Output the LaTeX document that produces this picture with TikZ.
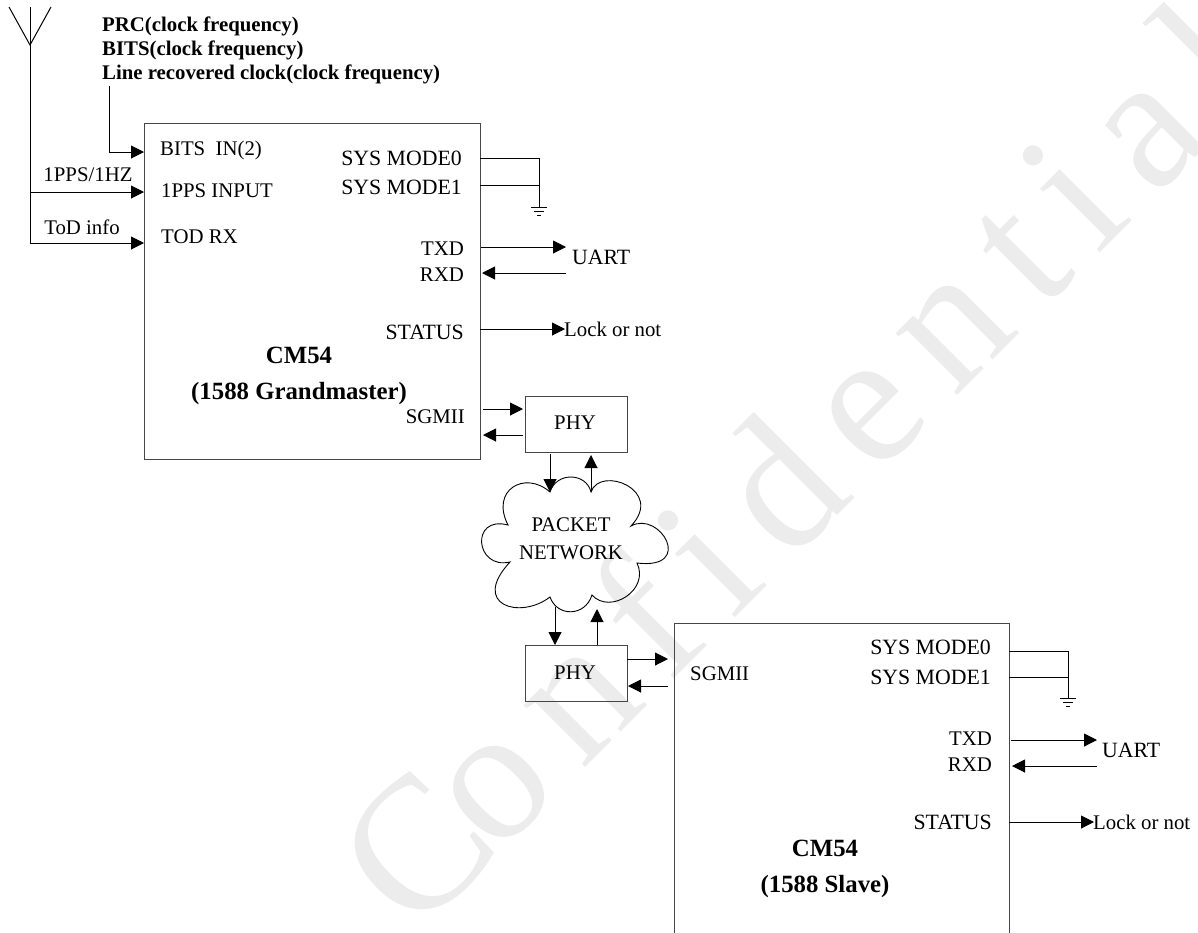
\documentclass[tikz,border=0pt]{standalone}
\usepackage{fontspec}
\setmainfont{Liberation Serif}
\newfontfamily\markfont[LetterSpace=14.3]{Liberation Serif}
\usepackage{xcolor}
\usepackage{tikz}
\usetikzlibrary{positioning, shapes}
\usetikzlibrary{arrows.meta}
\definecolor{markgray}{RGB}{236,236,236}
\definecolor{boxgray}{RGB}{70,70,70}

\begin{document}
\begin{tikzpicture}[x=1pt,y=-1pt]
        \tikzset{edge/.style = {-{Triangle[length=13pt,width=13pt]},line width=1pt}}
        \tikzset{line/.style = {line width=1pt}}
        \tikzset{chip/.style = {draw=boxgray,line width=0.9pt,anchor=north west,inner sep=0pt}}
        \tikzset{lbl/.style = {font=\fontsize{20.8}{25}\selectfont,inner sep=0pt}}
        \tikzset{widelbl/.style = {font=\fontsize{21.8}{26}\selectfont,inner sep=0pt}}
        \tikzset{title/.style = {font=\bfseries\fontsize{24.8}{35.5}\selectfont,inner sep=0pt,align=center}}
        \useasboundingbox (0,0) rectangle (1198,932);

        % watermark
        \node[markgray,rotate=45,anchor=base west,inner sep=0pt,font=\markfont\fontsize{190}{190}\selectfont] (mark) at (415,938) {C\kern-12pt onfidential};

        % grandmaster
        \node[chip,minimum width=336pt,minimum height=336pt] (gm) at (144,123) {};
        \node[title] (gmt) at (299,376) {CM54\\(1588 Grandmaster)};
        \node[lbl,anchor=west] (bits) at (160,150) {BITS\ \ IN(2)};
        \node[lbl,anchor=west] (pps) at (161,191) {1PPS INPUT};
        \node[lbl,anchor=west] (tod) at (161,237) {TOD RX};
        \node[widelbl,anchor=east] (mode0) at (462,158) {SYS MODE0};
        \node[widelbl,anchor=east] (mode1) at (462,187) {SYS MODE1};
        \node[lbl,anchor=east] (txd) at (464,249) {TXD};
        \node[lbl,anchor=east] (rxd) at (464,275) {RXD};
        \node[widelbl,anchor=east] (status) at (464,332) {STATUS};
        \node[lbl,anchor=east] (sgmii) at (465,417) {SGMII};
        \node[widelbl,anchor=west] (uart) at (572,257) {UART};
        \node[lbl,anchor=west] (lock) at (564,329) {Lock or not};

        % inputs
        \coordinate (ant) at (30,45);
        \coordinate (antc) at (30,7);
        \coordinate (antl) at (9,7);
        \coordinate (antr) at (51,7);
        \draw[line] (antc) -- (ant);
        \draw[line] (antl) -- (ant) -- (antr);
        \coordinate (in1) at (144,192);
        \coordinate (in2) at (144,243);
        \draw[edge] (ant) |- (in1);
        \draw[edge] (ant) |- (in2);
        \node[lbl] (ppst) at (88,175) {1PPS/1HZ};
        \node[lbl] (todt) at (82,227) {ToD info};
        \node[title,anchor=north west,align=left,font=\bfseries\fontsize{20.8}{24}\selectfont] (clk) at (102,17) {PRC(clock frequency)\\BITS(clock frequency)\\Line recovered clock(clock frequency)};
        \coordinate (clk1) at (109,86);
        \coordinate (in3) at (144,152);
        \draw[edge] (clk1) |- (in3);

        % ground
        \coordinate (m0) at (480,158);
        \coordinate (m1) at (480,185);
        \coordinate (g) at (539,207);
        \draw[line] (m0) -| (g);
        \draw[line] (m1) -- (m1 -| g);
        \draw[line] ([xshift=-8pt]g) -- ([xshift=8pt]g) ([shift={(-5pt,-4pt)}]g) -- ([shift={(5pt,-4pt)}]g) ([shift={(-2pt,-8pt)}]g) -- ([shift={(2pt,-8pt)}]g);

        % uart
        \coordinate (txa) at (481,247);
        \coordinate (txb) at (566,247);
        \coordinate (rxa) at (566,273);
        \coordinate (rxb) at (482,273);
        \coordinate (sta) at (480,329);
        \coordinate (stb) at (565,329);
        \draw[edge] (txa) -- (txb);
        \draw[edge] (rxa) -- (rxb);
        \draw[edge] (sta) -- (stb);

        % network
        \node[chip,minimum width=102pt,minimum height=56pt] (phya) at (525,396) {};
        \node[lbl] (phyat) at (575,423) {PHY};
        \node[chip,minimum width=102pt,minimum height=56pt] (phyb) at (525,645) {};
        \node[lbl] (phybt) at (575,673) {PHY};
        \draw[line width=0.9pt] (550,492) .. controls (556,472) and (586,472) .. (591,492)
            .. controls (600,465) and (665,490) .. (631,526)
            .. controls (660,510) and (695,570) .. (637,563)
            .. controls (650,590) and (610,615) .. (592,595)
            .. controls (585,617) and (557,617) .. (550,597)
            .. controls (520,620) and (470,605) .. (510,562)
            .. controls (475,570) and (470,515) .. (508,525)
            .. controls (490,490) and (525,470) .. (550,492) -- cycle;
        \node[lbl,align=center,font=\fontsize{20.8}{28}\selectfont] (net) at (571,539) {PACKET\\NETWORK};
        \coordinate (a1) at (483,409);
        \coordinate (a2) at (523,409);
        \coordinate (a3) at (523,435);
        \coordinate (a4) at (483,435);
        \coordinate (b1) at (550,454);
        \coordinate (b2) at (550,492);
        \coordinate (b3) at (591,492);
        \coordinate (b4) at (591,455);
        \coordinate (c1) at (555,607);
        \coordinate (c2) at (555,645);
        \coordinate (c3) at (597,645);
        \coordinate (c4) at (597,609);
        \coordinate (d1) at (627,659);
        \coordinate (d2) at (668,659);
        \coordinate (d3) at (668,686);
        \coordinate (d4) at (628,686);
        \draw[edge] (a1) -- (a2);
        \draw[edge] (a3) -- (a4);
        \draw[edge] (b1) -- (b2);
        \draw[edge] (b3) -- (b4);
        \draw[edge] (c1) -- (c2);
        \draw[edge] (c3) -- (c4);
        \draw[edge] (d1) -- (d2);
        \draw[edge] (d3) -- (d4);

        % slave
        \draw[draw=boxgray,line width=0.9pt] (674,940) -- (674,623) -- (1009,623) -- (1009,940);
        \node[title] (slt) at (825,869) {CM54\\(1588 Slave)};
        \node[lbl,anchor=west] (sgmiib) at (690,674) {SGMII};
        \node[widelbl,anchor=east] (mode0b) at (991,647) {SYS MODE0};
        \node[widelbl,anchor=east] (mode1b) at (991,677) {SYS MODE1};
        \node[lbl,anchor=east] (txdb) at (992,739) {TXD};
        \node[lbl,anchor=east] (rxdb) at (992,765) {RXD};
        \node[widelbl,anchor=east] (statusb) at (992,822) {STATUS};
        \node[widelbl,anchor=west] (uartb) at (1102,750) {UART};
        \node[lbl,anchor=west] (lockb) at (1093,822) {Lock or not};
        \coordinate (m0b) at (1009,651);
        \coordinate (m1b) at (1009,677);
        \coordinate (gb) at (1068,698);
        \draw[line] (m0b) -| (gb);
        \draw[line] (m1b) -- (m1b -| gb);
        \draw[line] ([xshift=-8pt]gb) -- ([xshift=8pt]gb) ([shift={(-5pt,-4pt)}]gb) -- ([shift={(5pt,-4pt)}]gb) ([shift={(-2pt,-8pt)}]gb) -- ([shift={(2pt,-8pt)}]gb);
        \coordinate (txc) at (1011,740);
        \coordinate (txd2) at (1097,740);
        \coordinate (rxc) at (1097,766);
        \coordinate (rxd2) at (1012,766);
        \coordinate (stc) at (1009,822);
        \coordinate (std) at (1094,822);
        \draw[edge] (txc) -- (txd2);
        \draw[edge] (rxc) -- (rxd2);
        \draw[edge] (stc) -- (std);
\end{tikzpicture}
\end{document}
